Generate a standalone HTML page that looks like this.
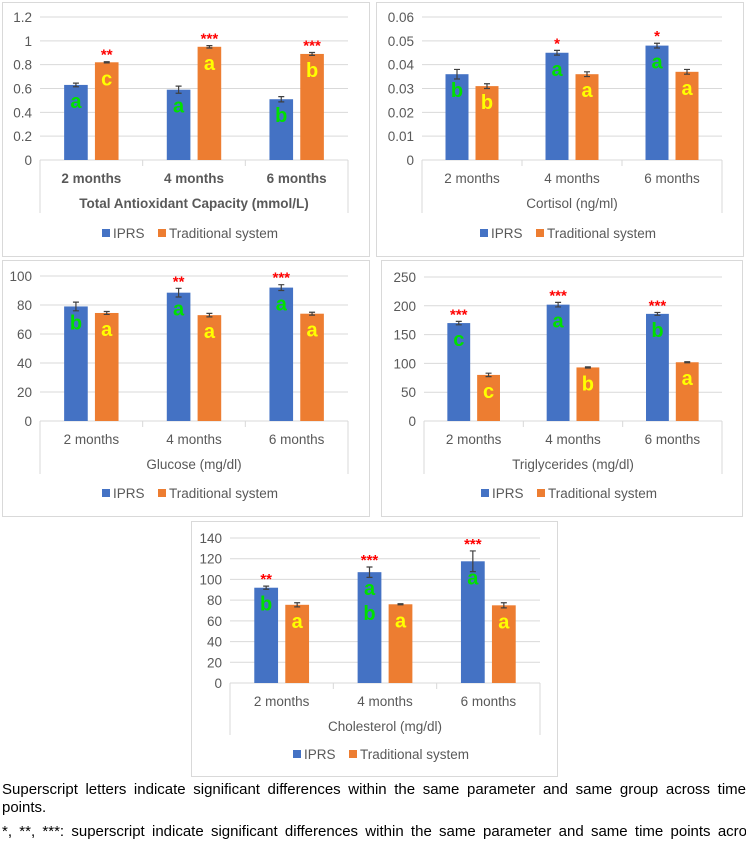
<!DOCTYPE html>
<html><head><meta charset="utf-8"><style>
body{margin:0;width:746px;height:843px;background:#fff;overflow:hidden;font-family:"Liberation Sans",sans-serif}
#note{position:absolute;left:2px;top:781px;width:744px;font-size:15px;line-height:18px;color:#000}
#note .j{display:block;text-align:justify;text-align-last:justify;white-space:nowrap}
#note p{margin:0 0 6px 0}
</style></head><body>
<svg id="svg" width="746" height="780" style="position:absolute;left:0;top:0"></svg>
<div id="note"><p><span class="j" style="white-space:normal">Superscript letters indicate significant differences within the same parameter and same group across time</span>points.</p><p><span class="j" style="white-space:normal;width:760px">*, **, ***: superscript indicate significant differences within the same parameter and same time points across</span></p></div>
<script>
const categories=["2 months","4 months","6 months"];
const seriesNames=["IPRS","Traditional system"];
const tacIPRS=[0.63,0.59,0.51], tacIPRSErr=[0.015,0.03,0.022];
const tacTrad=[0.82,0.95,0.89], tacTradErr=[0.005,0.01,0.012];
const tacTicks=["0","0.2","0.4","0.6","0.8","1","1.2"];
const corIPRS=[0.036,0.045,0.048], corIPRSErr=[0.002,0.001,0.001];
const corTrad=[0.031,0.036,0.037], corTradErr=[0.001,0.001,0.001];
const corTicks=["0","0.01","0.02","0.03","0.04","0.05","0.06"];
const gluIPRS=[79,88.5,92], gluIPRSErr=[3,3,2];
const gluTrad=[74.5,73,74], gluTradErr=[1,1.2,1];
const gluTicks=["0","20","40","60","80","100"];
const triIPRS=[170,202,186], triIPRSErr=[3,4,2.5];
const triTrad=[80,93,102], triTradErr=[3,1,1];
const triTicks=["0","50","100","150","200","250"];
const chIPRS=[92,107,117.5], chIPRSErr=[1.5,5,10];
const chTrad=[75.5,76,75], chTradErr=[2,0.5,2.5];
const chTicks=["0","20","40","60","80","100","120","140"];

const NS="http://www.w3.org/2000/svg", svg=document.getElementById('svg');
function mk(tag,attrs,parent,text){const e=document.createElementNS(NS,tag);for(const k in attrs)e.setAttribute(k,attrs[k]);if(text!==undefined)e.textContent=text;(parent||svg).appendChild(e);return e;}
const BLUE="#4472c4",ORANGE="#ed7d31";
function chart(c){
  const g=mk('g',{});
  
  
  const fr=mk('rect',{x:c.box[0]+.5,y:c.box[1]+.5,width:c.box[2],height:c.box[3],fill:'#fff',stroke:'#d9d9d9'},g);
  
  const max=parseFloat(c.ticks[c.ticks.length-1]);
  const y=v=>c.y0-(v/max)*(c.y0-c.yTop);
  const bw=(c.x1-c.x0)/categories.length;
  const fw=c.bold?'bold':'normal';
  c.ticks.forEach(t=>{
    const v=parseFloat(t);
    if(v>0){const l=mk('line',{x1:c.x0,x2:c.x1,y1:y(v),y2:y(v),stroke:'#d9d9d9'},g);}
    const tx=mk('text',{x:c.x0-8,y:y(v)+5,'text-anchor':'end','font-size':13.5,fill:'#595959'},g,t);
    
  });
  const ax=mk('path',{d:`M${c.x0},${c.y0}H${c.x1}M${c.x0},${c.y0}V${c.catBottom}M${c.x1},${c.y0}V${c.catBottom}`+categories.map((_,i)=>i>0?`M${c.x0+i*bw},${c.y0}V${c.y0+6}`:'').join(''),stroke:'#d9d9d9',fill:'none'},g);
  
  const barW=bw*0.23, gap=bw*0.07;
  categories.forEach((cat,i)=>{
    const cx=c.x0+bw*(i+0.5);
    const t=mk('text',{x:cx,y:c.y0+23,'text-anchor':'middle','font-size':13.5,'font-weight':fw,fill:'#595959'},g,cat);
    
    [[c.s1,c.e1,BLUE,c.l1,'#00e000',0],[c.s2,c.e2,ORANGE,c.l2,'#ffff00',1]].forEach(([s,e,col,lt,lc,k])=>{
      const bx=k===0?cx-gap/2-barW:cx+gap/2;
      const r=mk('rect',{x:bx,y:y(s[i]),width:barW,height:c.y0-y(s[i]),fill:col},g);
      
      const mx=bx+barW/2, t1=y(s[i]+e[i]), t2=y(s[i]-e[i]);
      const eb=mk('path',{d:`M${mx},${t1}V${t2}M${mx-3},${t1}H${mx+3}M${mx-3},${t2}H${mx+3}`,stroke:'#404040','stroke-width':1.2,fill:'none'},g);
      
      const lines=lt[i].split(' ');
      lines.forEach((L,j)=>{
        const lt2=mk('text',{x:mx,y:y(s[i])+23+j*25,'text-anchor':'middle','font-size':20,'font-weight':'bold',fill:lc},g,L);
        
      });
      const st=(k===0?c.st1:c.st2)[i];
      if(st){const s2=mk('text',{x:mx,y:t1-2,'text-anchor':'middle','font-size':15,'font-weight':'bold',fill:'#ff0000'},g,st);
        }
    });
  });
  const tt=mk('text',{x:(c.x0+c.x1)/2,y:c.y0+48,'text-anchor':'middle','font-size':13.5,'font-weight':fw,fill:'#595959'},g,c.title);
  
  const ly=c.legY, lx=(c.x0+c.x1)/2-92;
  const lg=mk('g',{},g);
  const r1=mk('rect',{x:lx,y:ly-9,width:8,height:8,fill:BLUE},lg);
  const a1=mk('text',{x:lx+11,y:ly,'font-size':13.5,fill:'#595959'},lg,seriesNames[0]);
  const r2=mk('rect',{x:lx+56,y:ly-9,width:8,height:8,fill:ORANGE},lg);
  const a2=mk('text',{x:lx+67,y:ly,'font-size':13.5,fill:'#595959'},lg,seriesNames[1]);
}
chart({name:'tac-chart',box:[2,2,367,254],x0:40,x1:348,y0:160,yTop:17,catBottom:213,legY:238,ticks:tacTicks,s1:tacIPRS,e1:tacIPRSErr,s2:tacTrad,e2:tacTradErr,l1:["a","a","b"],l2:["c","a","b"],st1:["","",""],st2:["**","***","***"],title:"Total Antioxidant Capacity (mmol/L)",bold:true});
chart({name:'cortisol-chart',box:[376,2,367,254],x0:422,x1:722,y0:160,yTop:17,catBottom:213,legY:238,ticks:corTicks,s1:corIPRS,e1:corIPRSErr,s2:corTrad,e2:corTradErr,l1:["b","a","a"],l2:["b","a","a"],st1:["","*","*"],st2:["","",""],title:"Cortisol (ng/ml)"});
chart({name:'glucose-chart',box:[2,260,367,256],x0:40,x1:348,y0:421,yTop:276,catBottom:474,legY:498,ticks:gluTicks,s1:gluIPRS,e1:gluIPRSErr,s2:gluTrad,e2:gluTradErr,l1:["b","a","a"],l2:["a","a","a"],st1:["","**","***"],st2:["","",""],title:"Glucose (mg/dl)"});
chart({name:'triglycerides-chart',box:[381,260,361,256],x0:424,x1:722,y0:421,yTop:277,catBottom:474,legY:498,ticks:triTicks,s1:triIPRS,e1:triIPRSErr,s2:triTrad,e2:triTradErr,l1:["c","a","b"],l2:["c","b","a"],st1:["***","***","***"],st2:["","",""],title:"Triglycerides (mg/dl)"});
chart({name:'cholesterol-chart',box:[191,521,366,255],x0:230,x1:540,y0:683,yTop:538,catBottom:735,legY:759,ticks:chTicks,s1:chIPRS,e1:chIPRSErr,s2:chTrad,e2:chTradErr,l1:["b","a b","a"],l2:["a","a","a"],st1:["**","***","***"],st2:["","",""],title:"Cholesterol (mg/dl)"});
</script>
</body></html>
